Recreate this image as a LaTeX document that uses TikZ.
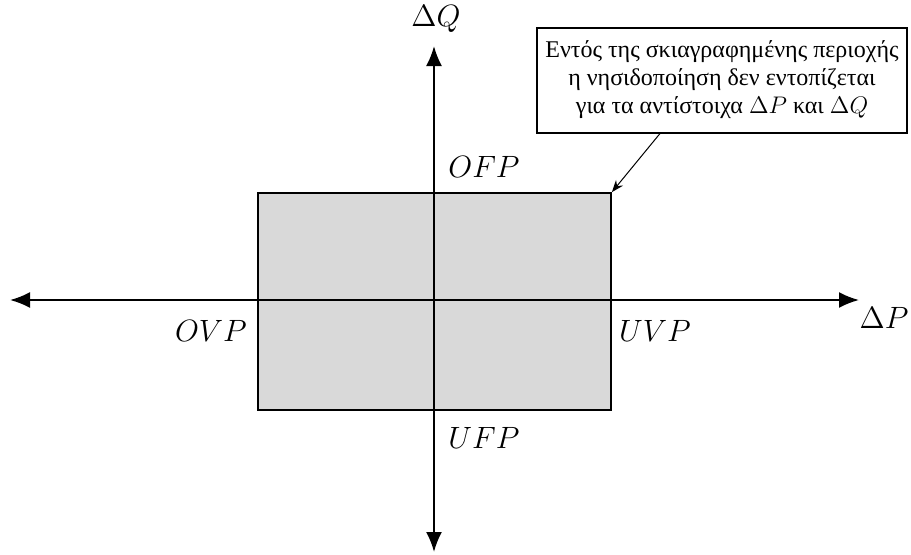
\documentclass[tikz,border=0pt]{standalone}
\usepackage{graphicx}
\usepackage{fontspec}
\newfontfamily\greekfont{Liberation Serif}
\usetikzlibrary{arrows.meta}
\newcommand\axlab[1]{\scalebox{1.07}{$#1$}}
\begin{document}
\begin{tikzpicture}[x=0.5pt,y=-0.5pt,
  axis/.style={line width=1pt,-{Latex[length=10pt,width=8pt]}},
  lbl/.style={font=\Large,inner sep=0pt},
  region/.style={draw,line width=0.9pt,fill={rgb,255:red,217;green,217;blue,217},minimum width=176.5pt,minimum height=108.5pt,inner sep=0pt},
  notebox/.style={draw,line width=1pt,fill=white,minimum width=185pt,minimum height=52.5pt,align=center,inner sep=2pt,font=\greekfont\large},
  pointer/.style={line width=0.5pt,-{Stealth[length=6pt,width=4.5pt]}}]
\useasboundingbox (0,0) rectangle (911,554);
\node[region] (reg) at (434.5,301.5) {};
\coordinate (xl) at (10,300);
\coordinate (xr) at (859,300);
\coordinate (yt) at (434,46);
\coordinate (yb) at (434,552);
\coordinate (c) at (434,300);
\draw[axis] (c) -- (xr);
\draw[axis] (c) -- (xl);
\draw[axis] (c) -- (yt);
\draw[axis] (c) -- (yb);
\node[lbl] (dq) at (436,19) {\axlab{\Delta Q}};
\node[lbl] (dp) at (884,318) {\axlab{\Delta P}};
\node[lbl] (ofp) at (484,167) {\axlab{OFP}};
\node[lbl] (ovp) at (211,331) {\axlab{OVP}};
\node[lbl] (uvp) at (655,331) {\axlab{UVP}};
\node[lbl] (ufp) at (484,438) {\axlab{UFP}};
\node[notebox] (note) at (722,80) {Εντός της σκιαγραφημένης περιοχής\\η νησιδοποίηση δεν εντοπίζεται\\για τα αντίστοιχα $\Delta P$ και $\Delta Q$};
\coordinate (ps) at (660,132);
\draw[pointer] (note.south -| ps) -- (reg.north east);
\end{tikzpicture}
\end{document}
